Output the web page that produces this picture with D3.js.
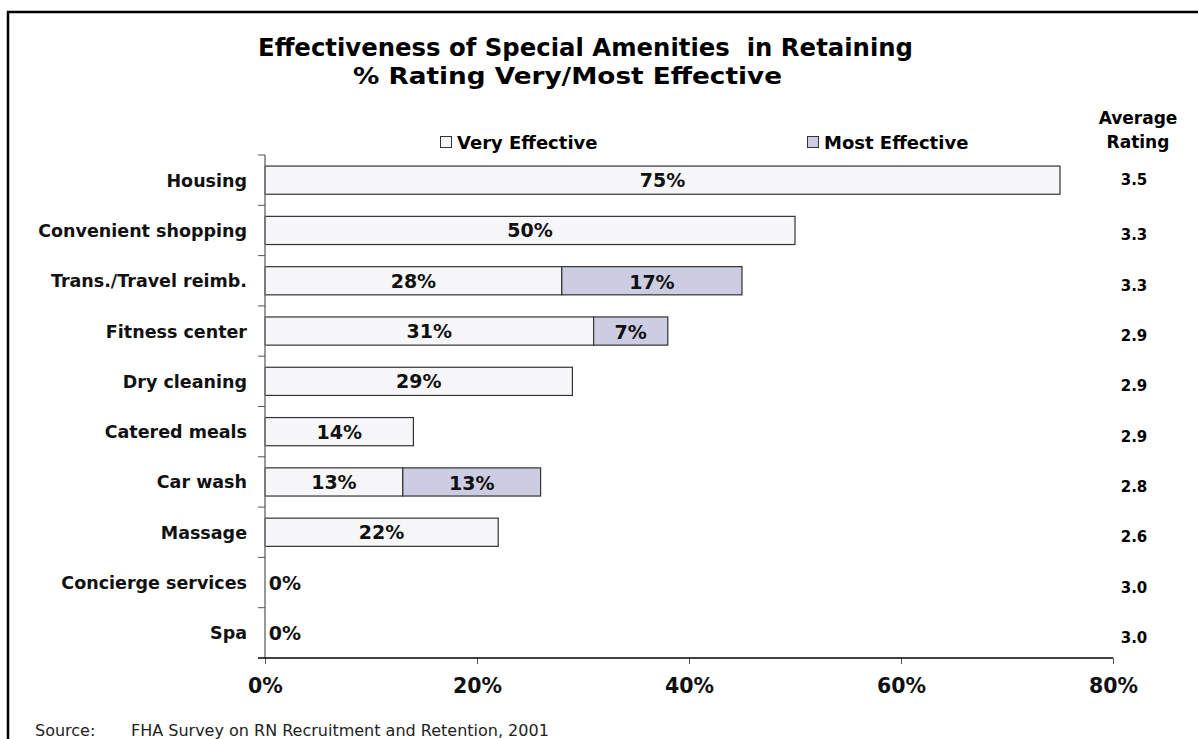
<!DOCTYPE html>
<html>
<head>
<meta charset="utf-8">
<script src="https://cdn.jsdelivr.net/npm/d3@7"></script>
<style>
  html, body { margin: 0; padding: 0; background: #fff; }
  svg { display: block; font-family: "DejaVu Sans", Verdana, sans-serif; }
</style>
</head>
<body>
<svg id="chart" width="1198" height="739"></svg>
<script>
// Amenities, top to bottom
const categories = ["Housing", "Convenient shopping", "Trans./Travel reimb.", "Fitness center",
  "Dry cleaning", "Catered meals", "Car wash", "Massage", "Concierge services", "Spa"];
// % rating "Very Effective"
const veryEffective = [75, 50, 28, 31, 29, 14, 13, 22, 0, 0];
// % rating "Most Effective" (stacked after Very Effective)
const mostEffective = [0, 0, 17, 7, 0, 0, 13, 0, 0, 0];
// Average rating per amenity
const avgRating = ["3.5", "3.3", "3.3", "2.9", "2.9", "2.9", "2.8", "2.6", "3.0", "3.0"];
const xTicks = [0, 20, 40, 60, 80];
const seriesNames = ["Very Effective", "Most Effective"];

const colors = { very: "#f7f7f9", most: "#cccce2", stroke: "#333" };

const svg = d3.select("#chart");

// Outer frame (runs off the right and bottom edges)
svg.append("rect")
  .attr("x", 8).attr("y", 12).attr("width", 1240).attr("height", 760)
  .attr("fill", "none").attr("stroke", "#000").attr("stroke-width", 2.5);

const x = d3.scaleLinear().domain([0, 80]).range([265, 1113]);
const y = d3.scaleBand().domain(categories).range([155, 658]).paddingInner(0.44).paddingOuter(0.22);
const yFull = d3.scaleBand().domain(categories).range([155, 658]);

// Titles
svg.append("text").attr("x", 258).attr("y", 56)
  .attr("font-size", 25).attr("font-weight", "bold").attr("fill", "#000")
  .attr("textLength", 655).attr("lengthAdjust", "spacingAndGlyphs")
  .text("Effectiveness of Special Amenities\u00a0 in Retaining");
svg.append("text").attr("x", 353).attr("y", 84)
  .attr("font-size", 23).attr("font-weight", "bold").attr("fill", "#000")
  .attr("textLength", 429).attr("lengthAdjust", "spacingAndGlyphs")
  .text("% Rating Very/Most Effective");

// Legend
const legendItems = [
  { name: seriesNames[0], fill: colors.very, x: 440 },
  { name: seriesNames[1], fill: colors.most, x: 807 }
];
const lg = svg.append("g").selectAll("g").data(legendItems).join("g")
  .attr("transform", d => `translate(${d.x},0)`);
lg.append("rect").attr("x", 0.5).attr("y", 136.5).attr("width", 11).attr("height", 11)
  .attr("fill", d => d.fill).attr("stroke", "#333").attr("stroke-width", 1);
lg.append("text").attr("x", 17).attr("y", 148.5).attr("font-size", 18).attr("font-weight", "bold")
  .text(d => d.name);

// Average Rating header
svg.append("text").attr("x", 1138).attr("y", 124).attr("text-anchor", "middle")
  .attr("font-size", 17).attr("font-weight", "bold").text("Average");
svg.append("text").attr("x", 1138).attr("y", 148).attr("text-anchor", "middle")
  .attr("font-size", 17).attr("font-weight", "bold").text("Rating");

// Bars
const rows = categories.map((c, i) => ({ c, v: veryEffective[i], m: mostEffective[i], r: avgRating[i] }));
const barG = svg.append("g");
barG.selectAll("rect.very").data(rows.filter(d => d.v > 0)).join("rect")
  .attr("class", "very")
  .attr("x", x(0)).attr("y", d => y(d.c)).attr("width", d => x(d.v) - x(0)).attr("height", y.bandwidth())
  .attr("fill", colors.very).attr("stroke", colors.stroke).attr("stroke-width", 1.2);
barG.selectAll("rect.most").data(rows.filter(d => d.m > 0)).join("rect")
  .attr("class", "most")
  .attr("x", d => x(d.v)).attr("y", d => y(d.c)).attr("width", d => x(d.v + d.m) - x(d.v)).attr("height", y.bandwidth())
  .attr("fill", colors.most).attr("stroke", colors.stroke).attr("stroke-width", 1.2);

// Value labels
const labelG = svg.append("g").attr("font-size", 19).attr("font-weight", "bold").attr("fill", "#111");
labelG.selectAll("text.vl").data(rows).join("text")
  .attr("class", "vl")
  .attr("x", d => d.v > 0 ? (x(0) + x(d.v)) / 2 : x(0) + 20)
  .attr("y", d => y(d.c) + y.bandwidth() / 2 + 7)
  .attr("text-anchor", "middle")
  .text(d => d.v + "%");
labelG.selectAll("text.ml").data(rows.filter(d => d.m > 0)).join("text")
  .attr("class", "ml")
  .attr("x", d => (x(d.v) + x(d.v + d.m)) / 2)
  .attr("y", d => y(d.c) + y.bandwidth() / 2 + 8)
  .attr("text-anchor", "middle")
  .text(d => d.m + "%");

// Average rating values
svg.append("g").selectAll("text").data(rows).join("text")
  .attr("x", 1134).attr("y", (d, i) => yFull(d.c) + yFull.bandwidth() / 2 + (i === 0 ? 5 : 10))
  .attr("text-anchor", "middle").attr("font-size", 15).attr("font-weight", "bold")
  .text(d => d.r);

// Y axis: category boundary ticks
const yAxisG = svg.append("g");
yAxisG.append("line").attr("x1", x(0)).attr("x2", x(0)).attr("y1", 155).attr("y2", 658)
  .attr("stroke", "#777").attr("stroke-width", 1.5);
const boundaries = categories.map(c => yFull(c));
yAxisG.selectAll("line.t").data(boundaries).join("line").attr("class", "t")
  .attr("x1", x(0) - 7).attr("x2", x(0)).attr("y1", d => d).attr("y2", d => d)
  .attr("stroke", "#555").attr("stroke-width", 1);
yAxisG.selectAll("text").data(categories).join("text")
  .attr("x", 247).attr("y", d => yFull(d) + yFull.bandwidth() / 2 + 6.5)
  .attr("text-anchor", "end").attr("font-size", 17.5).attr("font-weight", "bold").attr("fill", "#111")
  .text(d => d);

// X axis
const xAxis = d3.axisBottom(x).tickValues(xTicks).tickFormat(d => d + "%").tickSize(6).tickPadding(14);
const xg = svg.append("g").attr("transform", "translate(0,658)").call(xAxis);
xg.select(".domain").remove();
xg.append("line").attr("x1", x(0) - 7).attr("x2", x(80)).attr("y1", 0).attr("y2", 0)
  .attr("stroke", "#000").attr("stroke-width", 1.5);
xg.selectAll(".tick line").attr("stroke", "#555");
xg.selectAll(".tick text").attr("font-size", 20.5).attr("font-weight", "bold").attr("fill", "#111")
  .attr("font-family", "DejaVu Sans, Verdana, sans-serif");

// Source note
const src = svg.append("text").attr("y", 736).attr("font-size", 16).attr("fill", "#222");
src.append("tspan").attr("x", 35).text("Source:");
src.append("tspan").attr("x", 131).text("FHA Survey on RN Recruitment and Retention, 2001");
</script>
</body>
</html>
